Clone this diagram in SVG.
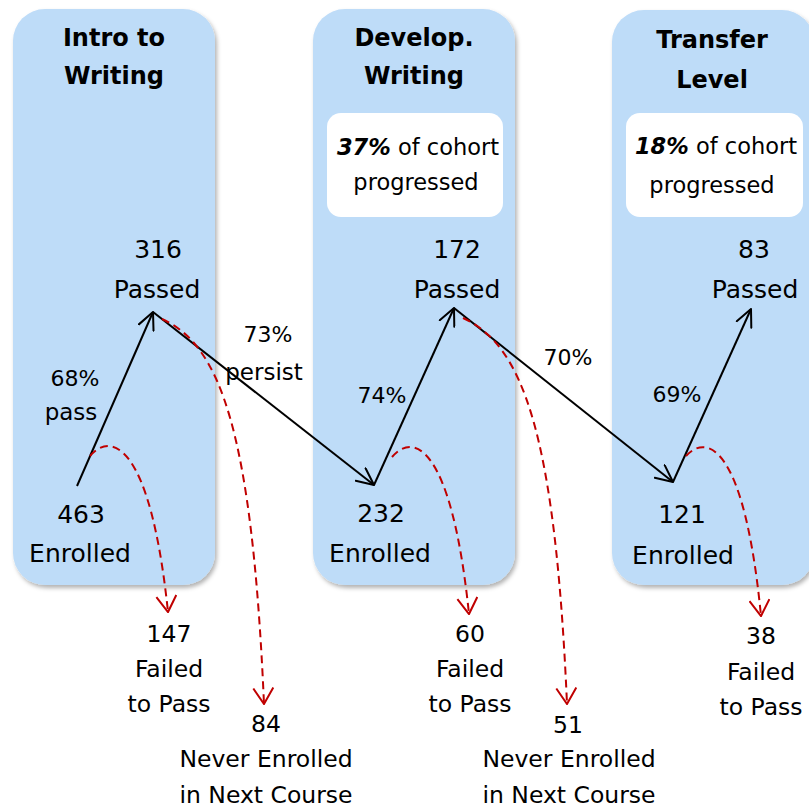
<svg xmlns="http://www.w3.org/2000/svg" width="809" height="808" viewBox="0 0 809 808">
<style>
text{font-family:"DejaVu Sans","Liberation Sans",sans-serif;fill:#000;text-anchor:middle}
.title{font-weight:bold;font-size:24px}
.num{font-size:25px}
.pct{font-size:22px}
.word{font-size:23px}
.box{font-size:22.5px}
.lbl{font-size:23.5px}
.panel{fill:#BEDCF8;filter:url(#sh)}
.wbox{fill:#fff}
.flow{fill:none;stroke:#000;stroke-width:2;marker-end:url(#ah)}
.drop{fill:none;stroke:#C00000;stroke-width:2;stroke-dasharray:8 5;marker-end:url(#rh)}
</style>
<defs>
<filter id="sh" x="-10%" y="-10%" width="130%" height="130%">
<feDropShadow dx="2" dy="3" stdDeviation="2" flood-color="#000" flood-opacity="0.3"/>
</filter>
<marker id="ah" markerUnits="userSpaceOnUse" viewBox="0 0 20 18" markerWidth="20" markerHeight="18" refX="18" refY="9" orient="auto">
<path d="M1,1 L18,9 L1,17" fill="none" stroke="#000" stroke-width="2" stroke-linecap="round" stroke-linejoin="round"/>
</marker>
<marker id="rh" markerUnits="userSpaceOnUse" viewBox="0 0 18 22" markerWidth="18" markerHeight="22" refX="17" refY="11" orient="auto">
<path d="M1,1 L17,11 L1,21" fill="none" stroke="#C00000" stroke-width="2" stroke-dasharray="none" stroke-linejoin="miter"/>
</marker>
</defs>

<g id="panel-intro">
<rect class="panel" x="13" y="9" width="202" height="576" rx="32"/>
<text class="title" x="114" y="46">Intro to</text>
<text class="title" x="114" y="84">Writing</text>
<text class="num" x="158" y="258">316</text>
<text class="num" x="157" y="298">Passed</text>
<text class="num" x="81" y="523">463</text>
<text class="num" x="80" y="562">Enrolled</text>
<text class="pct" x="75" y="386">68%</text>
<text class="word" x="71" y="420">pass</text>
</g>

<g id="panel-develop">
<rect class="panel" x="313" y="9" width="202" height="576" rx="32"/>
<text class="title" x="414" y="46">Develop.</text>
<text class="title" x="414" y="84">Writing</text>
<rect class="wbox" x="327" y="113" width="176" height="104" rx="14"/>
<text class="box" x="418" y="155"><tspan font-weight="bold" font-style="italic">37%</tspan> of cohort</text>
<text class="box" x="416" y="190">progressed</text>
<text class="num" x="457" y="258">172</text>
<text class="num" x="457" y="298">Passed</text>
<text class="num" x="381" y="522">232</text>
<text class="num" x="380" y="562">Enrolled</text>
<text class="pct" x="382" y="403">74%</text>
</g>

<g id="panel-transfer">
<rect class="panel" x="612" y="10" width="202" height="575" rx="32"/>
<text class="title" x="712" y="48">Transfer</text>
<text class="title" x="712" y="88">Level</text>
<rect class="wbox" x="626" y="113" width="177" height="104" rx="14"/>
<text class="box" x="716" y="154"><tspan font-weight="bold" font-style="italic">18%</tspan> of cohort</text>
<text class="box" x="712" y="193">progressed</text>
<text class="num" x="754" y="258">83</text>
<text class="num" x="755" y="298">Passed</text>
<text class="num" x="682" y="523">121</text>
<text class="num" x="683" y="564">Enrolled</text>
<text class="pct" x="677" y="402">69%</text>
</g>

<g id="connectors">
<path class="flow" d="M77,486 L153,312"/>
<path class="flow" d="M153,312 L374,485"/>
<path class="flow" d="M374,485 L454,308"/>
<path class="flow" d="M454,308 L673,482"/>
<path class="flow" d="M673,482 L751,309"/>
<path class="drop" d="M90,456 C110,432 150,440 168,612"/>
<path class="drop" d="M162,319 C220,345 252,430 264,704"/>
<path class="drop" d="M392,457 C412,433 451,441 469,614"/>
<path class="drop" d="M463,318 C522,345 555,430 567,704"/>
<path class="drop" d="M686,456 C706,434 744,442 761,616"/>
</g>

<g id="label-persist">
<text class="pct" x="268" y="342">73%</text>
<text class="word" x="264" y="380">persist</text>
</g>
<g id="label-70">
<text class="pct" x="568" y="365">70%</text>
</g>

<g id="out-failed-1">
<text class="lbl" x="169" y="642">147</text>
<text class="lbl" x="169" y="677">Failed</text>
<text class="lbl" x="169" y="712">to Pass</text>
</g>
<g id="out-never-1">
<text class="lbl" x="266" y="732">84</text>
<text class="lbl" x="266" y="767">Never Enrolled</text>
<text class="lbl" x="266" y="803">in Next Course</text>
</g>
<g id="out-failed-2">
<text class="lbl" x="470" y="642">60</text>
<text class="lbl" x="470" y="677">Failed</text>
<text class="lbl" x="470" y="712">to Pass</text>
</g>
<g id="out-never-2">
<text class="lbl" x="568" y="733">51</text>
<text class="lbl" x="569" y="767">Never Enrolled</text>
<text class="lbl" x="569" y="803">in Next Course</text>
</g>
<g id="out-failed-3">
<text class="lbl" x="761" y="644">38</text>
<text class="lbl" x="761" y="680">Failed</text>
<text class="lbl" x="761" y="715">to Pass</text>
</g>
</svg>
